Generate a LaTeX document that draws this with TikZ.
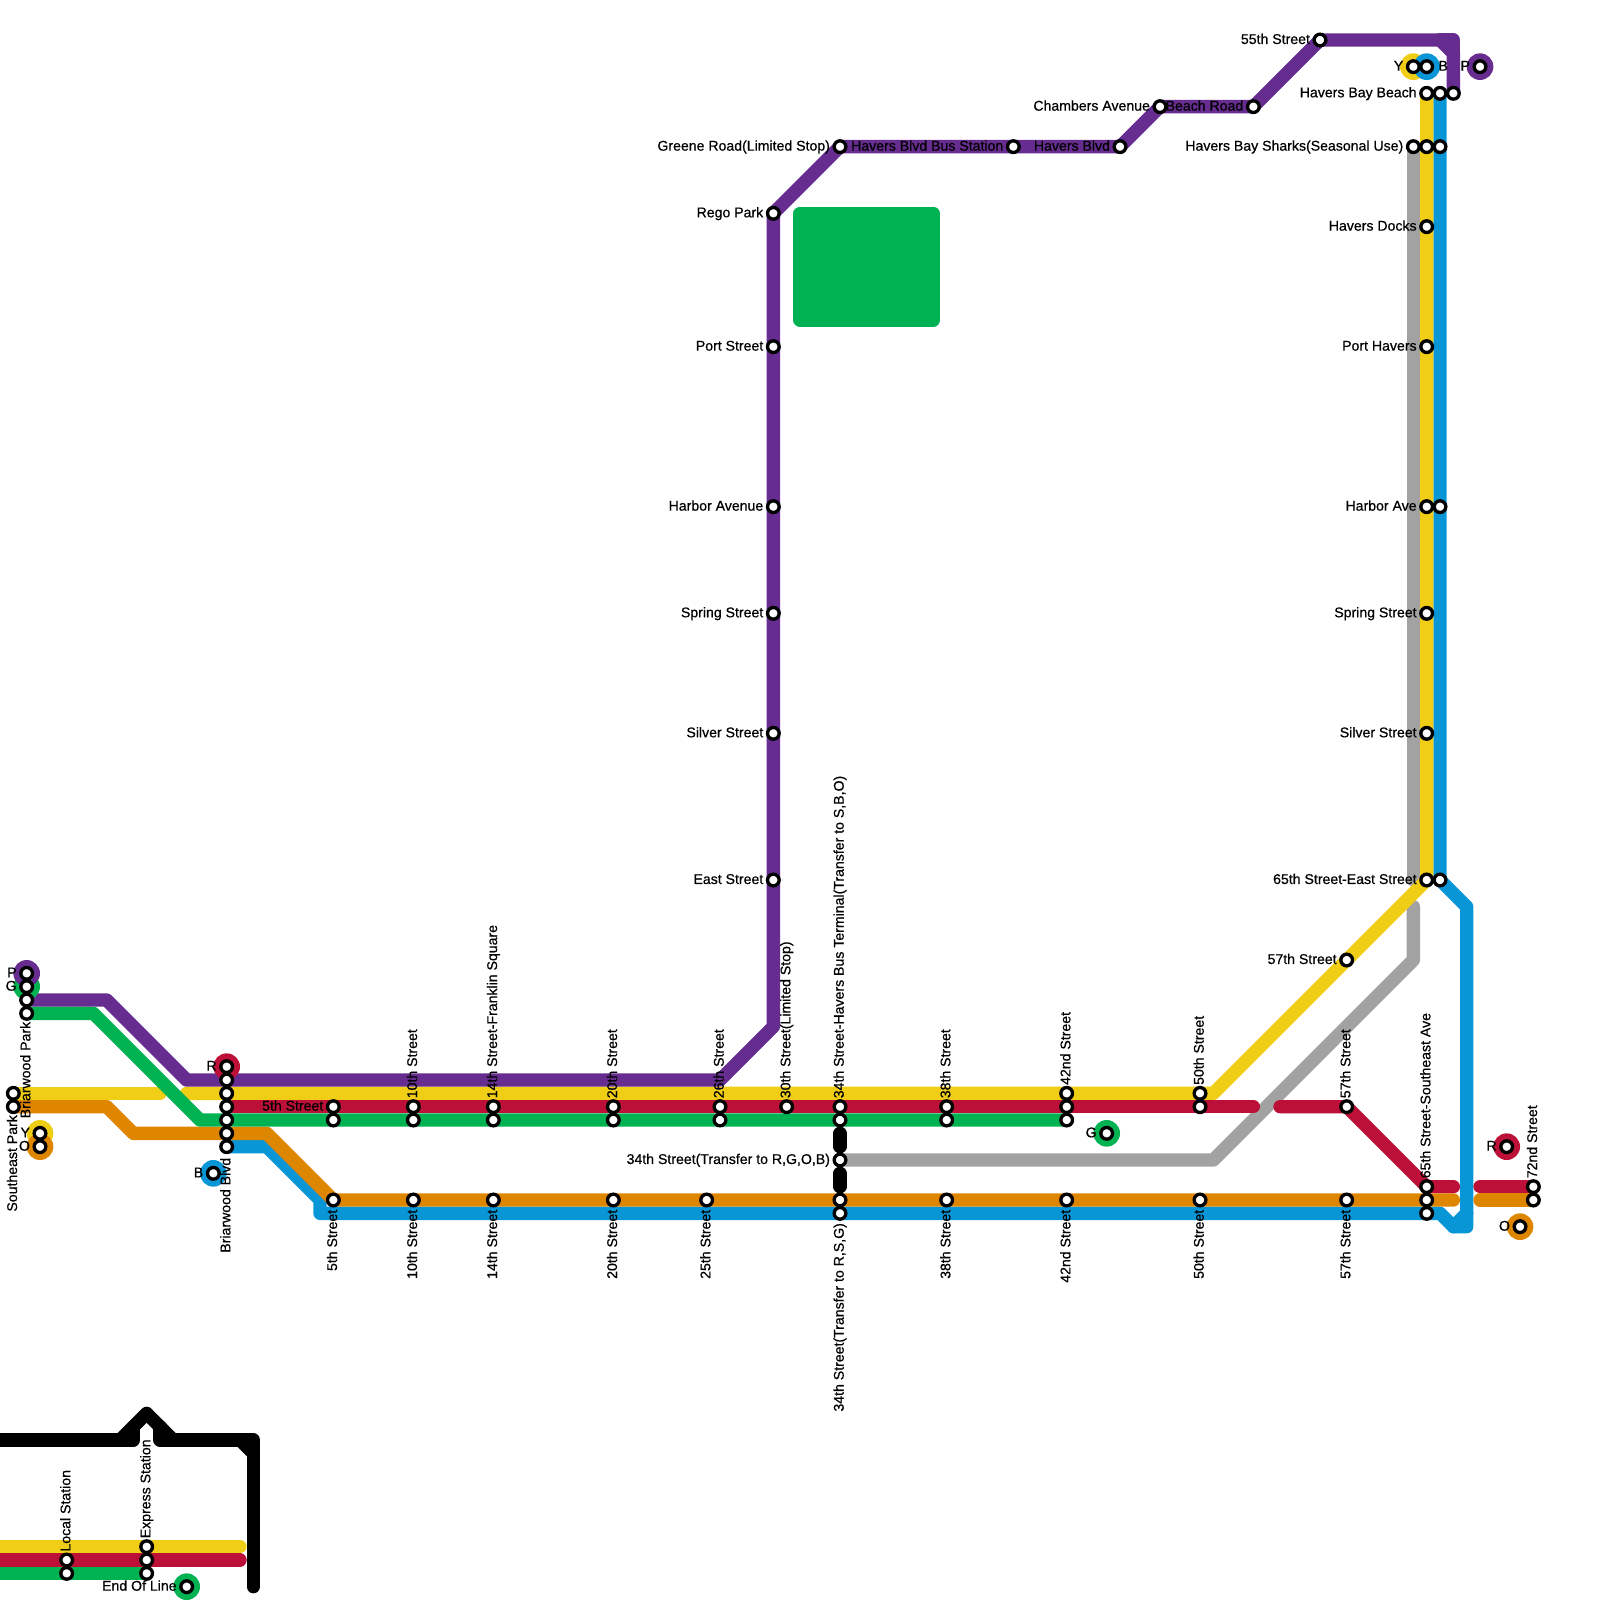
\documentclass[tikz,border=0pt]{standalone}
\usepackage{fontspec}
\setmainfont{Liberation Sans}[FakeBold=0.55]
\definecolor{mpurple}{HTML}{662C90}
\definecolor{mgreen}{HTML}{00B251}
\definecolor{myellow}{HTML}{F0CE15}
\definecolor{mred}{HTML}{BD1038}
\definecolor{morange}{HTML}{DF8600}
\definecolor{mblue}{HTML}{0896D7}
\definecolor{mgray}{HTML}{A2A2A2}
\tikzset{
	mline/.style={line width=2mm, line cap=round, line join=round},
	stn/.style={circle, draw=black, fill=white, line width=0.5mm, minimum size=1.75mm, inner sep=0pt},
	term/.style={circle, minimum size=4mm, inner sep=0pt},
	lab/.style={inner sep=0pt, font=\fontsize{6.02pt}{6pt}\selectfont, text height=4.3pt, text depth=0pt},
}
\begin{document}
\begin{tikzpicture}[x=0.2cm,y=0.2cm]
	\useasboundingbox (0,0) rectangle (120,-120);
	\foreach \x/\y in {2/75,8/75,14/81,54/81,58/77,58/16,63/11,84/11,87/8,94/8,99/3,108/3,109/3,109/4,109/7,
		2/76,7/76,15/84,80/84,0/118,11/118,
		1/82,12/82,14/82,91/82,107/66,107/7,0/116,18/116,
		17/83,94/83,96/83,101/83,107/89,109/89,111/89,115/89,0/117,18/117,
		1/83,8/83,10/85,20/85,25/90,109/90,111/90,115/90,
		17/86,20/86,24/90,24/91,107/91,108/91,109/92,110/92,110/91,110/68,108/66,108/7,
		63/87,91/87,106/72,106/68,106/66,106/11,
		0/108,9/108,10/108,10/107,11/106,12/107,12/108,13/108,18/108,19/108,19/109,19/119,
		63/85,63/86,63/88,63/89} { \coordinate (w\x-\y) at (\x,-\y); }
	% park
	\draw[mline, color=mgreen, fill=mgreen] (60,-16) rectangle (70,-24);
	% lines
	\draw[mline, color=mgray] (w63-87) -- (w91-87) -- (w106-72) -- (w106-68);
	\draw[mline, color=mgray] (w106-66) -- (w106-11);
	\draw[mline, color=mblue] (w17-86) -- (w20-86) -- (w24-90) -- (w24-91) -- (w107-91) -- (w108-91) -- (w109-92) -- (w110-92) -- (w110-68) -- (w108-66) -- (w108-7);
	\draw[mline, color=mblue] (w109-92) -- (w110-91);
	\draw[mline, color=myellow] (w1-82) -- (w12-82);
	\draw[mline, color=myellow] (w14-82) -- (w91-82) -- (w107-66) -- (w107-7);
	\draw[mline, color=myellow] (w0-116) -- (w18-116);
	\draw[mline, color=mred] (w17-83) -- (w94-83);
	\draw[mline, color=mred] (w96-83) -- (w101-83) -- (w107-89) -- (w109-89);
	\draw[mline, color=mred] (w111-89) -- (w115-89);
	\draw[mline, color=mred] (w0-117) -- (w18-117);
	\draw[mline, color=morange] (w1-83) -- (w8-83) -- (w10-85) -- (w20-85) -- (w25-90) -- (w109-90);
	\draw[mline, color=morange] (w111-90) -- (w115-90);
	\draw[mline, color=mgreen] (w2-76) -- (w7-76) -- (w15-84) -- (w80-84);
	\draw[mline, color=mgreen] (w0-118) -- (w11-118);
	\draw[mline, color=mpurple] (w2-75) -- (w8-75) -- (w14-81) -- (w54-81) -- (w58-77) -- (w58-16) -- (w63-11) -- (w84-11) -- (w87-8) -- (w94-8) -- (w99-3) -- (w108-3) -- (w109-4) -- (w109-7);
	\draw[mline, color=mpurple] (w108-3) -- (w109-3) -- (w109-4);
	% black links
	\draw[mline] (w0-108) -- (w10-108) -- (w10-107);
	\draw[mline] (w9-108) -- (w11-106) -- (w13-108);
	\draw[mline] (w12-107) -- (w12-108) -- (w19-108) -- (w19-119);
	\draw[mline] (w18-108) -- (w19-109);
	\draw[mline] (w63-85) -- (w63-86);
	\draw[mline] (w63-88) -- (w63-89);
	% line ends
	\foreach \x/\y/\col in {2/74/mgreen,2/73/mpurple,3/85/myellow,3/86/morange,17/80/mred,16/88/mblue,14/119/mgreen,83/85/mgreen,106/5/myellow,107/5/mblue,111/5/mpurple,113/86/mred,114/92/morange} {
		\node[term, fill=\col] (t\x-\y) at (\x,-\y) {};
	}
	% stations
	\foreach \x/\y in {2/73,2/74,2/75,2/76,1/82,1/83,3/85,3/86,17/80,17/81,17/82,17/83,17/84,17/85,17/86,16/88,
		25/83,25/84,25/90,31/83,31/84,31/90,37/83,37/84,37/90,46/83,46/84,46/90,54/83,54/84,53/90,59/83,
		63/83,63/84,63/87,63/90,63/91,71/83,71/84,71/90,80/82,80/83,80/84,80/90,83/85,90/82,90/83,90/90,
		101/72,101/83,101/90,107/89,107/90,107/91,115/89,115/90,113/86,114/92,
		58/16,58/26,58/38,58/46,58/55,58/66,63/11,76/11,84/11,87/8,94/8,99/3,
		106/5,107/5,111/5,107/7,108/7,109/7,106/11,107/11,108/11,107/17,107/26,107/38,108/38,107/46,107/55,107/66,108/66,
		5/117,5/118,11/116,11/117,11/118,14/119} {
		\node[stn] (s\x-\y) at (\x,-\y) {};
	}
	% labels to the left
	\foreach \x/\y/\lab in {2/73/P,2/74/G,3/85/Y,3/86/O,17/80/R,16/88/B,25/83/{5th Street},83/85/G,113/86/R,114/92/O,14/119/{End Of Line},
		58/16/{Rego Park},58/26/{Port Street},58/38/{Harbor Avenue},58/46/{Spring Street},58/55/{Silver Street},58/66/{East Street},
		63/11/{Greene Road(Limited Stop)},76/11/{Havers Blvd Bus Station},84/11/{Havers Blvd},87/8/{Chambers Avenue},94/8/{Beach Road},99/3/{55th Street},
		63/87/{34th Street(Transfer to R,G,O,B)},106/5/Y,111/5/P,107/7/{Havers Bay Beach},106/11/{Havers Bay Sharks(Seasonal Use)},
		107/17/{Havers Docks},107/26/{Port Havers},107/38/{Harbor Ave},107/46/{Spring Street},107/55/{Silver Street},107/66/{65th Street-East Street},101/72/{57th Street}} {
		\node[lab, anchor=east] (l\x-\y) at (\x-0.72,-\y+0.08) {\lab};
	}
	\node[lab, anchor=west] (l107-5) at (107.85,-4.92) {B};
	% labels above
	\foreach \x/\y/\lab in {31/82.4/{10th Street},37/82.4/{14th Street-Franklin Square},46/82.4/{20th Street},54/82.4/{26th Street},59/82.4/{30th Street(Limited Stop)},
		63/82.4/{34th Street-Havers Bus Terminal(Transfer to S,B,O)},71/82.4/{38th Street},80/81.4/{42nd Street},90/81.4/{50th Street},101/82.4/{57th Street},
		107/88.4/{65th Street-Southeast Ave},115/88.4/{72nd Street},5/116.4/{Local Station},11/115.4/{Express Station}} {
		\node[lab, rotate=90, anchor=west] (a\x-\y) at (\x-0.1,-\y) {\lab};
	}
	% labels below
	\foreach \x/\y/\lab in {1/83.6/{Southeast Park},2/76.6/{Briarwood Park},17/86.8/{Briarwood Blvd},25/90.7/{5th Street},31/90.7/{10th Street},37/90.7/{14th Street},46/90.7/{20th Street},53/90.7/{25th Street},
		63/91.7/{34th Street(Transfer to R,S,G)},71/90.7/{38th Street},80/90.7/{42nd Street},90/90.7/{50th Street},101/90.7/{57th Street}} {
		\node[lab, rotate=90, anchor=east] (b\x-\y) at (\x-0.1,-\y) {\lab};
	}
\end{tikzpicture}
\end{document}
